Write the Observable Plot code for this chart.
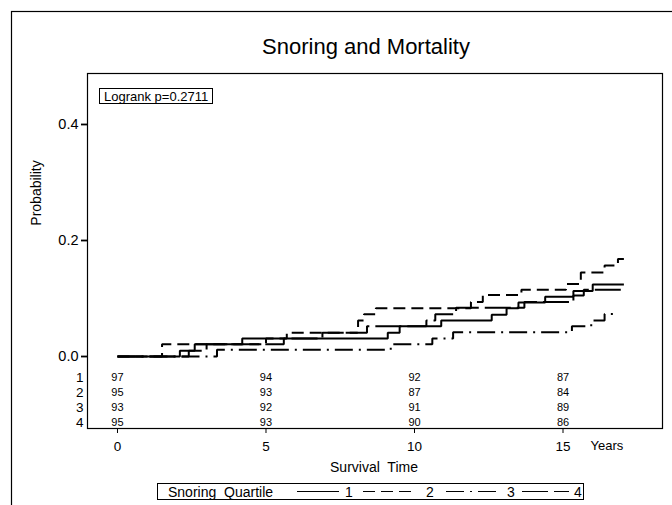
<!DOCTYPE html>
<html>
<head>
<meta charset="utf-8">
<script src="https://cdn.jsdelivr.net/npm/d3@7"></script>
<script src="https://cdn.jsdelivr.net/npm/@observablehq/plot@0.6"></script>
<style>
  body { margin: 0; background: #fff; }
  #chart { width: 672px; height: 505px; }
</style>
</head>
<body>
<div id="chart"></div>
<script>
// ---- Data ----
const chartTitle = "Snoring and Mortality";
const xLabel = "Survival  Time";
const yLabel = "Probability";
const logrankText = "Logrank p=0.2711";
const legendTitle = "Snoring  Quartile";
const seriesNames = ["1", "2", "3", "4"];

// Cumulative event probability step curves (step-after), time in years
const q1Time = [0, 2.1, 2.6, 4.2, 9.1, 9.5, 10.9, 12.6, 13.1, 13.5, 14.4, 15.35, 16.0, 17.05];
const q1Prob = [0, 0.010, 0.021, 0.031, 0.041, 0.052, 0.062, 0.072, 0.083, 0.093, 0.103, 0.113, 0.124, 0.124];

const q2Time = [0, 1.5, 5.0, 5.7, 8.1, 8.3, 8.7, 11.9, 12.3, 13.6, 15.1, 15.6, 16.4, 16.85, 17.05];
const q2Prob = [0, 0.021, 0.031, 0.041, 0.062, 0.073, 0.083, 0.094, 0.106, 0.115, 0.125, 0.145, 0.157, 0.168, 0.168];

const q3Time = [0, 3.35, 9.2, 10.6, 11.3, 15.3, 15.95, 16.4, 16.8];
const q3Prob = [0, 0.0115, 0.021, 0.031, 0.042, 0.052, 0.062, 0.0735, 0.0735];

const q4Time = [0, 2.4, 3.0, 5.6, 6.9, 8.4, 10.4, 10.7, 11.4, 13.7, 15.35, 15.7, 17.05];
const q4Prob = [0, 0.010, 0.021, 0.031, 0.041, 0.052, 0.062, 0.073, 0.084, 0.094, 0.105, 0.115, 0.115];

// Numbers at risk
const riskTimes = [0, 5, 10, 15];
const riskQ1 = [97, 94, 92, 87];
const riskQ2 = [95, 93, 87, 84];
const riskQ3 = [93, 92, 91, 89];
const riskQ4 = [95, 93, 90, 86];

// Axis ticks
const xTicks = [0, 5, 10, 15];
const yTicks = [0.0, 0.2, 0.4];

// ---- Styles ----
const FONT = "Arial, 'Liberation Sans', Helvetica, sans-serif";
const dashes = [null, "12,6", "18,6,2,6", "26,6"];

const toRows = (ts, ps) => ts.map((t, i) => ({t, p: ps[i]}));
const series = [toRows(q1Time, q1Prob), toRows(q2Time, q2Prob), toRows(q3Time, q3Prob), toRows(q4Time, q4Prob)];
const riskRows = [riskQ1, riskQ2, riskQ3, riskQ4];

const lineMarks = series.map((d, i) => Plot.line(d, {
  x: "t", y: "p", curve: "step-after", stroke: "black", strokeWidth: 2,
  strokeLinecap: "butt", strokeLinejoin: "miter",
  ...(dashes[i] ? {strokeDasharray: dashes[i]} : {})
}));

const riskMarks = riskRows.map((vals, i) => Plot.text(riskTimes, {
  x: d => d, text: (d, j) => String(vals[j]), frameAnchor: "bottom", lineAnchor: "middle",
  dy: -51 + 15 * i, fontSize: 11, fill: "black"
}));

const riskLabelMarks = seriesNames.map((name, i) => Plot.text([name], {
  text: d => d, frameAnchor: "bottom-left", lineAnchor: "middle", textAnchor: "end",
  dx: -4, dy: -51 + 15 * i, fontSize: 13.5, fill: "black"
}));

const plot = Plot.plot({
  width: 672, height: 505,
  marginLeft: 87, marginRight: 10, marginTop: 73, marginBottom: 77,
  style: {fontFamily: FONT, fontSize: "13px", background: "white", color: "black", overflow: "visible"},
  x: {domain: [-1.01, 18.35]},
  y: {domain: [-0.1241, 0.4879]},
  marks: [
    Plot.frame({stroke: "black", strokeWidth: 1.2}),
    Plot.axisY({ticks: yTicks, tickFormat: d3.format(".1f"), tickSize: 6, tickPadding: 3, label: null, fontSize: 14.5, strokeWidth: 1.8}),
    Plot.axisX({ticks: xTicks, tickSize: 5, tickPadding: 8, label: null, fontSize: 13.5}),
    ...lineMarks,
    ...riskMarks,
    ...riskLabelMarks,
    Plot.text(["Years"], {text: d => d, frameAnchor: "bottom-right", lineAnchor: "middle", textAnchor: "start", dx: -72, dy: 17, fontSize: 13})
  ]
});

document.getElementById("chart").appendChild(plot);

// ---- Decorations: outer frame, title, axis labels, logrank box, legend ----
const svg = d3.select(plot);
const txt = (sel) => sel.style("font-family", FONT).attr("fill", "black").attr("text-anchor", "start").style("white-space", "pre");

svg.append("rect").attr("x", 11.5).attr("y", 11.5).attr("width", 700).attr("height", 600)
  .attr("fill", "none").attr("stroke", "black").attr("stroke-width", 1.2);

txt(svg.append("text")).attr("x", 366).attr("y", 54).attr("text-anchor", "middle")
  .style("font-size", "22px").text(chartTitle);

txt(svg.append("text")).attr("transform", "translate(41,193) rotate(-90)").attr("text-anchor", "middle")
  .style("font-size", "14px").text(yLabel);

txt(svg.append("text")).attr("x", 374).attr("y", 472).attr("text-anchor", "middle")
  .style("font-size", "14px").text(xLabel);

// Logrank box
svg.append("rect").attr("x", 99.5).attr("y", 88.5).attr("width", 113).attr("height", 15)
  .attr("fill", "white").attr("stroke", "black").attr("stroke-width", 1);
txt(svg.append("text")).attr("x", 104).attr("y", 100.8)
  .style("font-size", "13px").text(logrankText);

// Legend
const lg = svg.append("g");
lg.append("rect").attr("x", 157.5).attr("y", 483.5).attr("width", 426).attr("height", 16)
  .attr("fill", "white").attr("stroke", "black").attr("stroke-width", 1);
txt(lg.append("text")).attr("x", 168).attr("y", 496.5)
  .style("font-size", "14px").text(legendTitle);
const legendItems = [
  {x0: 297, x1: 339, lx: 345},
  {x0: 363, x1: 414, lx: 426},
  {x0: 446, x1: 498, lx: 507},
  {x0: 522, x1: 569, lx: 574}
];
legendItems.forEach((it, i) => {
  const l = lg.append("line").attr("x1", it.x0).attr("x2", it.x1).attr("y1", 491.5).attr("y2", 491.5)
    .attr("stroke", "black").attr("stroke-width", 1.2);
  if (dashes[i]) l.attr("stroke-dasharray", dashes[i]);
  txt(lg.append("text")).attr("x", it.lx).attr("y", 496.5)
    .style("font-size", "14px").text(seriesNames[i]);
});
</script>
</body>
</html>
